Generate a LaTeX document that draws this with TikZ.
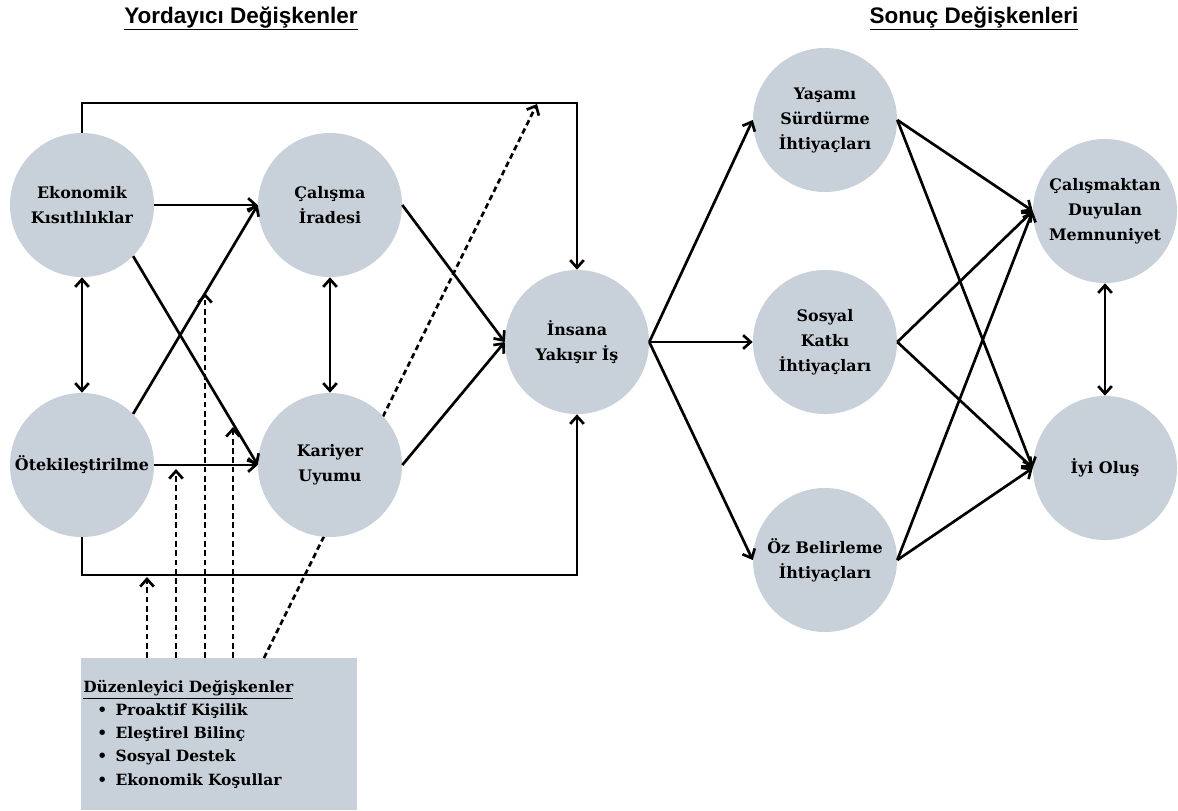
\documentclass[tikz,border=0pt]{standalone}
\usepackage{fontspec}
\usepackage{tikz}
\usetikzlibrary{arrows.meta}
\setmainfont{Liberation Serif}
\newfontfamily\heavyfont{DejaVu Serif}
\newfontfamily\titlefont{Liberation Sans}
\definecolor{circgray}{RGB}{200,208,218}

\begin{document}
\begin{tikzpicture}[x=0.025cm,y=-0.025cm,
	var/.style={circle,fill=circgray,minimum size=3.6cm,inner sep=0pt,align=center,font=\heavyfont\bfseries\fontsize{11.3}{17.8}\selectfont},
	arr/.style={line width=1.9pt,-{Straight Barb[length=1.9mm,width=3.4mm]}},
	darr/.style={line width=1.9pt,{Straight Barb[length=1.9mm,width=3.4mm]}-{Straight Barb[length=1.9mm,width=3.4mm]}},
	modarr/.style={arr,dash pattern=on 4pt off 2.6pt},
	heading/.style={anchor=base,font=\titlefont\bfseries\fontsize{16}{19}\selectfont}]
					\useasboundingbox (0,0) rectangle (1178,810);
				
					\node[heading] (tleft) at (241,23) {\underline{Yordayıcı Değişkenler}};
					\node[heading] (tright) at (974,23) {\underline{Sonuç Değişkenleri}};
				
					\node[anchor=north west,fill=circgray,text width=6.8cm,inner xsep=0.05cm,minimum height=3.8cm,align=left,
						font=\heavyfont\bfseries\fontsize{11}{16.4}\selectfont] (mod) at (81,658)
						{\underline{Düzenleyici Değişkenler}\\
						\hspace*{10pt}\makebox[13pt][l]{\textbullet}Proaktif Kişilik\\
						\hspace*{10pt}\makebox[13pt][l]{\textbullet}Eleştirel Bilinç\\
						\hspace*{10pt}\makebox[13pt][l]{\textbullet}Sosyal Destek\\
						\hspace*{10pt}\makebox[13pt][l]{\textbullet}Ekonomik Koşullar};
				
					\coordinate (m1) at (147,658);
					\coordinate (m2) at (176,658);
					\coordinate (m3) at (205,658);
					\coordinate (m4) at (233,658);
					\coordinate (m5) at (264,658);
					\coordinate (t1) at (147,577);
					\coordinate (t2) at (176,469);
					\coordinate (t3) at (205,293);
					\coordinate (t4) at (233,427);
					\coordinate (t5) at (537,104);
					\foreach \i in {1,...,5} \draw[modarr] (m\i) -- (t\i); % Moderators, under the circles.
				
					\node[var] (ek) at (82,205) {Ekonomik\\Kısıtlılıklar};
					\node[var] (ci) at (330,205) {Çalışma\\İradesi};
					\node[var] (ot) at (82,465) {Ötekileştirilme};
					\node[var] (ku) at (330,465) {Kariyer\\Uyumu};
					\node[var] (iy) at (577,342) {İnsana\\Yakışır İş};
					\node[var] (ys) at (825,120) {Yaşamı\\Sürdürme\\İhtiyaçları};
					\node[var] (sk) at (825,342) {Sosyal\\Katkı\\İhtiyaçları};
					\node[var] (ob) at (825,560) {Öz Belirleme\\İhtiyaçları};
					\node[var] (cm) at (1105,211) {Çalışmaktan\\Duyulan\\Memnuniyet};
					\node[var] (io) at (1105,468) {İyi Oluş};
				
					\draw[arr] (ek.east) -- (ci.west);
					\draw[arr] (ek.-45) -- (ku.west);
					\draw[arr] (ot.45) -- (ci.west);
					\draw[arr] (ot.east) -- (ku.west);
					\draw[darr] (ek.south) -- (ot.north);
					\draw[darr] (ci.south) -- (ku.north);
					\draw[arr] (ci.east) -- (iy.west);
					\draw[arr] (ku.east) -- (iy.west);
					\draw[arr] (ek.north) -- (82,103) -| (iy.north); % Top frame.
					\draw[arr] (ot.south) -- (82,575) -| (iy.south); % Bottom frame.
				
					\foreach \n in {ys,sk,ob} {
						\draw[arr] (iy.east) -- (\n.west);
						\draw[arr] (\n.east) -- (cm.west);
						\draw[arr] (\n.east) -- (io.west);
					}
					\draw[darr] (cm.south) -- (io.north);
				\end{tikzpicture}
\end{document}
